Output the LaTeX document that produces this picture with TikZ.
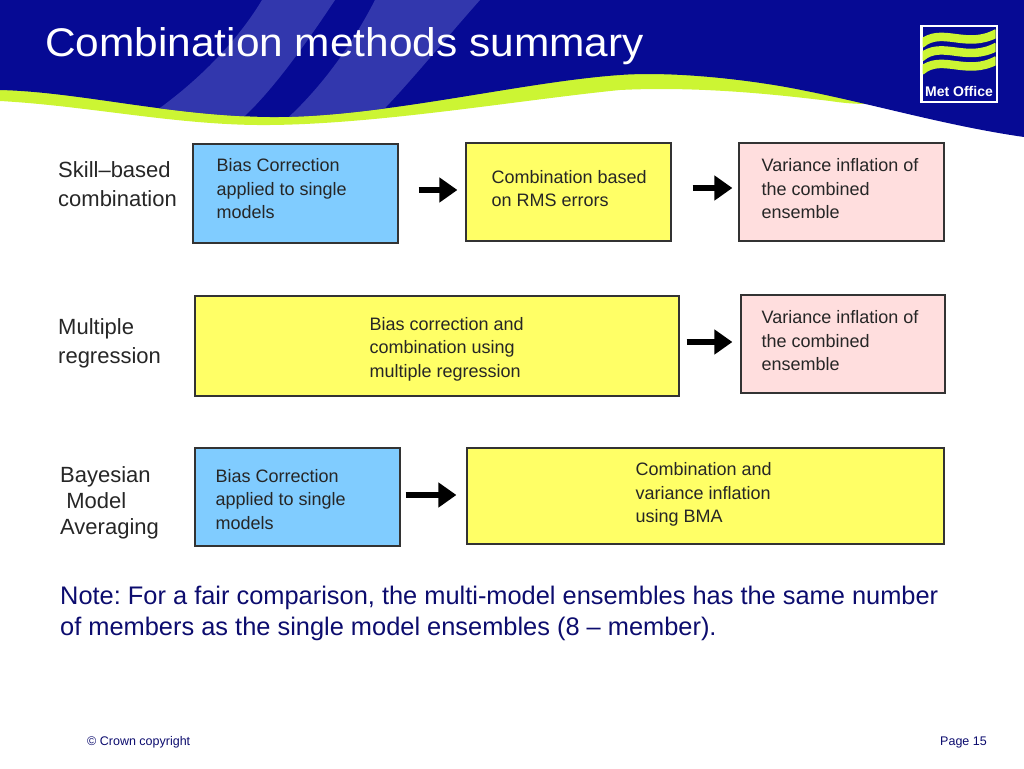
\documentclass[tikz,border=0pt]{standalone}
\usepackage{fontspec}
\setmainfont{Liberation Sans}
\usetikzlibrary{arrows.meta}
\usetikzlibrary{calc}
\usetikzlibrary{positioning}
\frenchspacing

\definecolor{mblue}{RGB}{6,10,148}
\definecolor{mlight}{RGB}{70,75,185}
\definecolor{mlime}{RGB}{204,245,51}
\definecolor{skyfill}{RGB}{128,204,255}
\definecolor{lemon}{RGB}{255,255,102}
\definecolor{blush}{RGB}{255,222,222}
\definecolor{notecol}{RGB}{12,12,110}

\tikzset{
	stage/.style={draw=black!80, line width=1.2pt, inner sep=0pt},
	bcstage/.style={stage, fill=skyfill},
	combstage/.style={stage, fill=lemon},
	inflstage/.style={stage, fill=blush},
	stagetext/.style={anchor=west, align=left, inner sep=0pt, text=black!85,
		font=\fontsize{18}{23.5}\selectfont},
	rowlabel/.style={anchor=west, align=left, inner sep=0pt, text=black!85,
		font=\fontsize{22}{29}\selectfont},
	flow/.style={line width=6pt, -{Triangle[length=18pt,width=24pt]}},
}

\newcommand{\stage}[6] % name, style, x centre, y centre, width, height
{
	\node[#2, minimum width=#5, minimum height=#6] (#1) at (#3,#4) {};
}

\begin{document}
\begin{tikzpicture}[x=1pt, y=-1pt]
	% page 1024 x 768
	\useasboundingbox (0,0) rectangle (1024,768);
	
	% header band
	\fill[mlime] (0,60) -- (0,101) .. controls (90,106) and (180,126) .. (270,125)
		.. controls (380,124) and (520,100) .. (620,90)
		.. controls (700,86) and (780,95) .. (830,101)
		.. controls (850,104) and (860,104) .. (875,104) -- (875,60) -- cycle;
	\fill[mblue] (0,0) -- (1024,0) -- (1024,137)
		.. controls (940,125) and (860,100) .. (780,86)
		.. controls (720,76) and (660,72) .. (620,75)
		.. controls (520,82) and (380,118) .. (270,117)
		.. controls (170,116) and (80,92) .. (0,90) -- cycle;
	\begin{scope}
		\clip (0,0) -- (1024,0) -- (1024,137)
			.. controls (940,125) and (860,100) .. (780,86)
			.. controls (720,76) and (660,72) .. (620,75)
			.. controls (520,82) and (380,118) .. (270,117)
			.. controls (170,116) and (80,92) .. (0,90) -- cycle;
		\fill[mlight, opacity=0.7] (262,0) -- (335,0) .. controls (305,45) and (270,95) .. (235,125)
			-- (135,125) .. controls (190,90) and (235,45) .. (262,0) -- cycle;
		\fill[mlight, opacity=0.7] (375,0) -- (480,0) .. controls (440,45) and (400,95) .. (368,125)
			-- (280,125) .. controls (320,90) and (352,45) .. (375,0) -- cycle;
	\end{scope}
	
	% title
	\node[anchor=west, inner sep=0pt, text=white, xscale=1.06, transform shape,
		font=\fontsize{40}{42}\selectfont] (title) at (45,46) {Combination methods summary};
	
	% logo
	\fill[white] (920,25) rectangle (998,103);
	\fill[mblue] (922.5,27.5) rectangle (995.5,100.5);
	\begin{scope}
		\clip (922.5,27.5) rectangle (995.5,80);
		\foreach \wy in {44,57.5,71}
			\draw[mlime, line width=8.5pt] (921,\wy) .. controls (942,\wy-18) and (966,\wy+6) .. (997,\wy-11);
	\end{scope}
	\node[text=white, inner sep=0pt, font=\fontsize{14}{15}\selectfont\bfseries] (logo) at (959,91) {Met Office};
	
	% row labels
	\node[rowlabel] (skill) at (58,184.5) {Skill--based\\combination};
	\node[rowlabel] (multi) at (58,343) {Multiple\\regression};
	\node[rowlabel, font=\fontsize{22}{26}\selectfont] (bayes) at (60,503) {Bayesian\\\ Model\\Averaging};
	
	% boxes
	\stage{bc1}{bcstage}{295.5}{193.5}{205}{99}
	\stage{rms}{combstage}{568.5}{192}{205}{98}
	\stage{infl1}{inflstage}{841.5}{192}{205}{98}
	\stage{mreg}{combstage}{437}{346}{484}{100}
	\stage{infl2}{inflstage}{843}{344}{204}{98}
	\stage{bc3}{bcstage}{297.5}{497}{205}{98}
	\stage{bma}{combstage}{705.5}{496}{477}{96}
	
	% box texts
	\node[stagetext] (bc1-t) at ($(bc1.west)+(24,-4.5)$) {Bias Correction\\applied to single\\models};
	\node[stagetext] (rms-t) at ($(rms.west)+(26,-3.5)$) {Combination based\\on RMS errors};
	\node[stagetext] (infl1-t) at ($(infl1.west)+(23,-3)$) {Variance inflation of\\the combined\\ensemble};
	\node[stagetext] (mreg-t) at ($(mreg.west)+(175,3)$) {Bias correction and\\combination using\\multiple regression};
	\node[stagetext] (infl2-t) at ($(infl2.west)+(21,-3)$) {Variance inflation of\\the combined\\ensemble};
	\node[stagetext] (bc3-t) at ($(bc3.west)+(21,2.5)$) {Bias Correction\\applied to single\\models};
	\node[stagetext] (bma-t) at ($(bma.west)+(169,-1.5)$) {Combination and\\variance inflation\\using BMA};
	
	% arrows
	\draw[flow] ($(bc1.east)+(20,-3.5)$) -- ($(bc1.east -| rms.west)+(-8,-3.5)$);
	\draw[flow] ($(rms.east)+(21,-4)$) -- ($(rms.east -| infl1.west)+(-6,-4)$);
	\draw[flow] ($(mreg.east)+(7,-4)$) -- ($(mreg.east -| infl2.west)+(-8,-4)$);
	\draw[flow] ($(bc3.east)+(5,-2)$) -- ($(bc3.east -| bma.west)+(-10,-2)$);
	
	% note and footer
	\node[anchor=west, align=left, inner sep=0pt, text=notecol, font=\fontsize{25.4}{31}\selectfont]
		(note) at (60,613) {Note: For a fair comparison, the multi-model ensembles has the same number\\of members as the single model ensembles (8 -- member).};
	\node[anchor=west, inner sep=0pt, text=notecol, font=\fontsize{12.5}{14}\selectfont] (copy) at (87,742) {\textcopyright{} Crown copyright};
	\node[anchor=east, inner sep=0pt, text=notecol, font=\fontsize{12.5}{14}\selectfont] (page) at (987,742) {Page 15};
	
\end{tikzpicture}
\end{document}
